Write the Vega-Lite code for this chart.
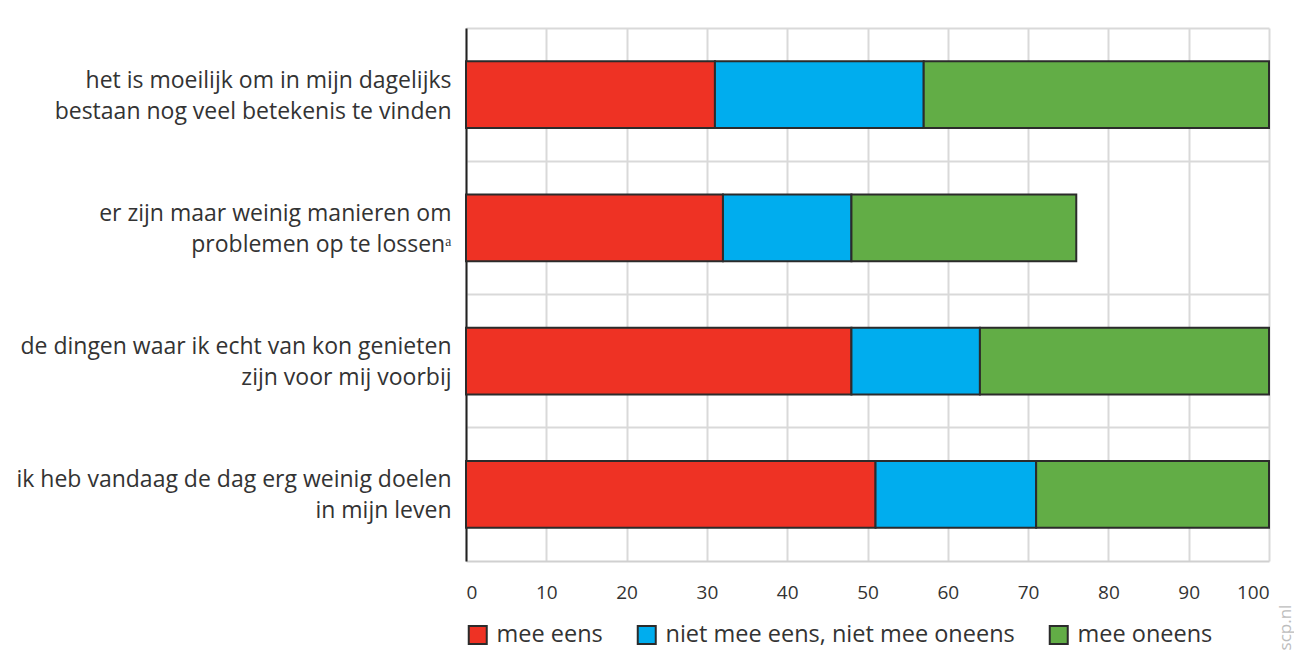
{
  "$schema": "https://vega.github.io/schema/vega-lite/v6.json",
  "width": 803,
  "height": 533,
  "autosize": {"type": "none"},
  "padding": {"left": 466, "top": 28, "right": 25, "bottom": 101},
  "background": "white",
  "config": {"view": {"stroke": null}, "font": "Open Sans"},
  "data": {
    "values": [
      {"item": "het is moeilijk om in mijn dagelijks|bestaan nog veel betekenis te vinden", "cat": "mee eens", "ord": 1, "value": 31},
      {"item": "het is moeilijk om in mijn dagelijks|bestaan nog veel betekenis te vinden", "cat": "niet mee eens, niet mee oneens", "ord": 2, "value": 26},
      {"item": "het is moeilijk om in mijn dagelijks|bestaan nog veel betekenis te vinden", "cat": "mee oneens", "ord": 3, "value": 43},
      {"item": "er zijn maar weinig manieren om |problemen op te lossenᵃ", "cat": "mee eens", "ord": 1, "value": 32},
      {"item": "er zijn maar weinig manieren om |problemen op te lossenᵃ", "cat": "niet mee eens, niet mee oneens", "ord": 2, "value": 16},
      {"item": "er zijn maar weinig manieren om |problemen op te lossenᵃ", "cat": "mee oneens", "ord": 3, "value": 28},
      {"item": "de dingen waar ik echt van kon genieten|zijn voor mij voorbij", "cat": "mee eens", "ord": 1, "value": 48},
      {"item": "de dingen waar ik echt van kon genieten|zijn voor mij voorbij", "cat": "niet mee eens, niet mee oneens", "ord": 2, "value": 16},
      {"item": "de dingen waar ik echt van kon genieten|zijn voor mij voorbij", "cat": "mee oneens", "ord": 3, "value": 36},
      {"item": "ik heb vandaag de dag erg weinig doelen|in mijn leven", "cat": "mee eens", "ord": 1, "value": 51},
      {"item": "ik heb vandaag de dag erg weinig doelen|in mijn leven", "cat": "niet mee eens, niet mee oneens", "ord": 2, "value": 20},
      {"item": "ik heb vandaag de dag erg weinig doelen|in mijn leven", "cat": "mee oneens", "ord": 3, "value": 29}
    ]
  },
  "mark": {"type": "bar", "stroke": "#2b2b2b", "strokeWidth": 2},
  "encoding": {
    "y": {
      "field": "item",
      "type": "nominal",
      "sort": null,
      "scale": {"paddingInner": 0.5, "paddingOuter": 0.25},
      "axis": {
        "title": null,
        "labelExpr": "split(datum.label, '|')",
        "labelFontSize": 23,
        "labelColor": "#333333",
        "labelLineHeight": 31,
        "labelOffset": -14,
        "labelPadding": 15,
        "labelLimit": 0,
        "ticks": false,
        "domainColor": "#222222",
        "domainWidth": 2,
        "grid": true,
        "gridColor": "#d9d9d9",
        "gridWidth": 2,
        "bandPosition": -0.5
      }
    },
    "x": {
      "field": "value",
      "type": "quantitative",
      "stack": "zero",
      "scale": {"domain": [0, 100], "nice": false},
      "axis": {
        "values": [0, 10, 20, 30, 40, 50, 60, 70, 80, 90, 100],
        "title": "scp.nl",
        "titleAngle": 270,
        "titleX": 819,
        "titleY": 66,
        "titleAlign": "center",
        "titleBaseline": "middle",
        "titleColor": "#bdbdbd",
        "titleFontSize": 17,
        "titleFontWeight": "normal",
        "labelFontSize": 19,
        "labelColor": "#333333",
        "labelPadding": 22,
        "ticks": false,
        "domainColor": "#d0d0d0",
        "domainWidth": 2,
        "grid": true,
        "gridColor": "#d9d9d9",
        "gridWidth": 2
      }
    },
    "color": {
      "field": "cat",
      "type": "nominal",
      "scale": {
        "domain": ["mee eens", "niet mee eens, niet mee oneens", "mee oneens"],
        "range": ["#ee3224", "#00adee", "#62ad46"]
      },
      "legend": {
        "orient": "none",
        "legendX": 0,
        "legendY": 595,
        "direction": "horizontal",
        "title": null,
        "symbolType": "square",
        "symbolSize": 324,
        "symbolStrokeColor": "#2b2b2b",
        "symbolStrokeWidth": 2,
        "symbolOpacity": 1,
        "labelFontSize": 23.5,
        "labelColor": "#333333",
        "labelOffset": 7,
        "columnPadding": 30,
        "labelLimit": 0
      }
    },
    "order": {"field": "ord", "type": "quantitative"}
  }
}
